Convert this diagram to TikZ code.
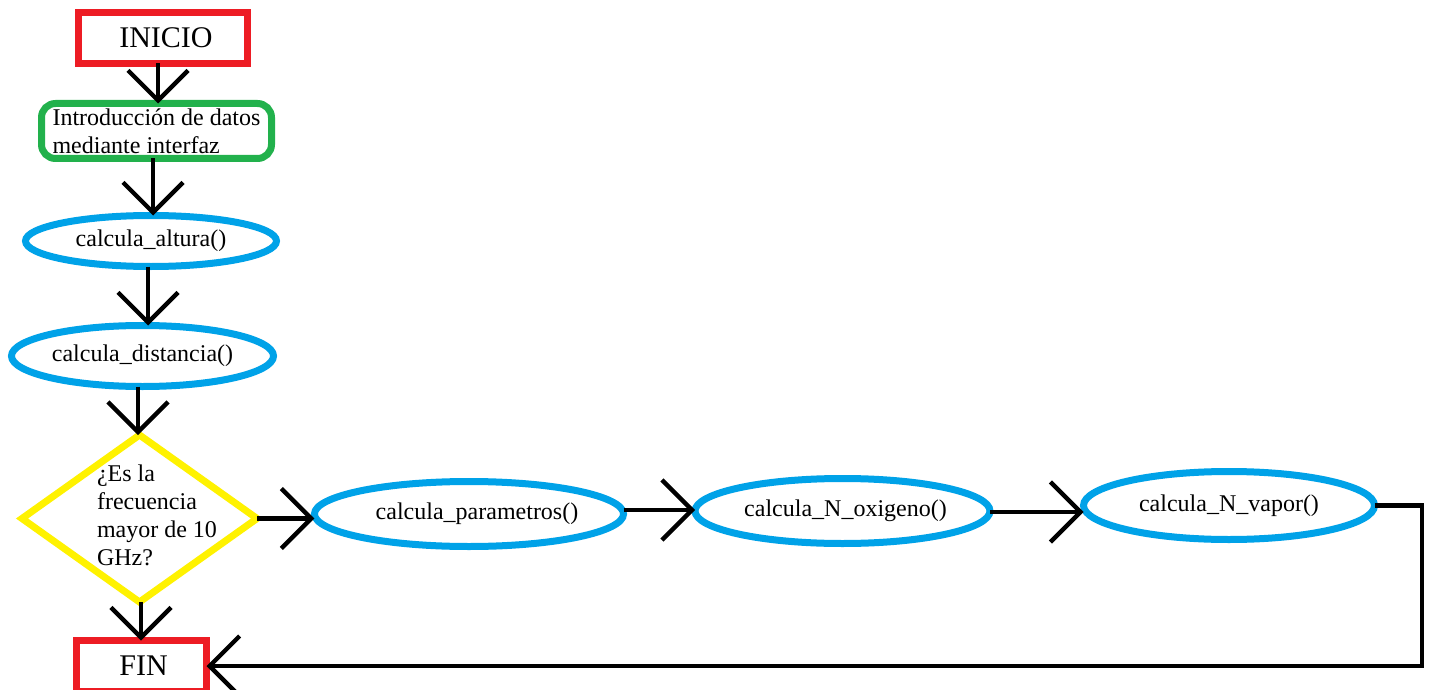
\documentclass[tikz,border=0pt]{standalone}
\usepackage{fontspec}
\setmainfont{Liberation Serif}
\usetikzlibrary{shapes.geometric,arrows.meta}
\definecolor{pred}{RGB}{237,28,36}
\definecolor{pgreen}{RGB}{34,177,76}
\definecolor{pblue}{RGB}{0,162,232}
\definecolor{pyellow}{RGB}{255,242,0}
\begin{document}
\begin{tikzpicture}[x=0.5pt,y=-0.5pt,
  every node/.style={inner sep=0pt, outer sep=0pt},
  txt/.style={font=\fontsize{12}{14}\selectfont},
  termbox/.style={draw=pred, line width=3.5pt, minimum height=25.5pt, font=\fontsize{15}{18}\selectfont},
  iobox/.style={draw=pgreen, line width=3.5pt, rounded corners=7pt, align=left, txt},
  procell/.style={draw=pblue, line width=3.5pt, ellipse, txt},
  decbox/.style={draw=pyellow, line width=3.5pt, diamond, minimum width=117.5pt, minimum height=83.5pt},
  arr/.style={draw=black, line width=2.2pt, -{Straight Barb[length=15pt,width=30pt,line width=2.2pt]}},
  conn/.style={draw=black, line width=2.2pt}]
\useasboundingbox (0,0) rectangle (1430,690);
\fill[white] (0,0) rectangle (1430,690);

\node[termbox, minimum width=84.5pt] (inicio) at (163,38) {\hspace*{3pt}INICIO};
\node[iobox, minimum width=115pt, minimum height=27.5pt] (intro) at (156.5,131) {Introducción de datos\\mediante interfaz};
\node[procell, minimum width=125.5pt, minimum height=25.5pt] (altura) at (151,241) {calcula\_altura()};
\node[procell, minimum width=131pt, minimum height=30.5pt] (dist) at (142.5,356) {calcula\_distancia()};
\node[decbox] (dec) at (139.5,518.5) {};
\node[txt, align=left, font=\fontsize{12}{14}\selectfont] (dectext) at (157,515) {¿Es la\\frecuencia\\mayor de 10\\GHz?};
\node[procell, minimum width=142.5pt, minimum height=32.5pt] (param) at (469,514) {\hspace*{8pt}calcula\_parametros()};
\node[procell, minimum width=142pt, minimum height=32.5pt] (oxi) at (842.5,511) {\hspace*{3pt}calcula\_N\_oxigeno()};
\node[procell, minimum width=145.5pt, minimum height=34pt] (vapor) at (1229,505.5) {calcula\_N\_vapor()\\[-2pt]\strut};
\node[termbox, minimum width=65pt] (fin) at (141.5,666) {\hspace*{2pt}FIN};
\coordinate (corner) at (1422,503);

\draw[arr] (inicio.south -| 158,0) -- (intro.north -| 158,0);
\draw[arr] (intro.south -| 153,0) -- (altura.north -| 153,0);
\draw[arr] (altura.south -| 148,0) -- (dist.north -| 148,0);
\draw[arr] (dist.south -| 138,0) -- (dec.north -| 138,0);
\draw[arr] (dec.south -| 141,0) -- (fin.north -| 141,0);
\draw[arr] (dec.east) -- (param.west |- dec.east);
\draw[arr] (param.east |- 0,510) -- (oxi.west |- 0,510);
\draw[arr] (oxi.east |- 0,512) -- (vapor.west |- 0,512);
\draw[arr] (vapor.east) -- (vapor.east -| corner) |- (fin.east);
\end{tikzpicture}
\end{document}
